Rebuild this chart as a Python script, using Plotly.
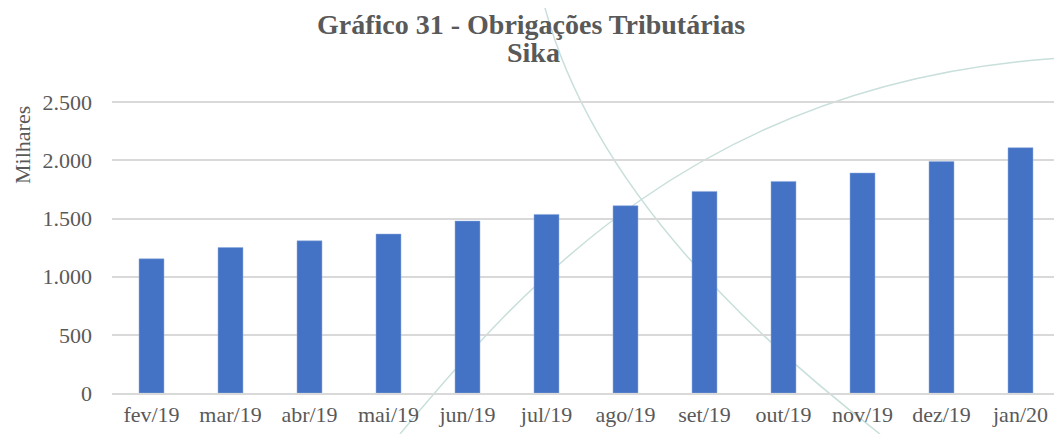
import plotly.graph_objects as go

# Data (values in thousands)
meses = ["fev/19", "mar/19", "abr/19", "mai/19", "jun/19", "jul/19",
         "ago/19", "set/19", "out/19", "nov/19", "dez/19", "jan/20"]
obrigacoes = [1154, 1251, 1309, 1367, 1479, 1536,
              1611, 1734, 1820, 1892, 1992, 2110]
y_ticks = [0, 500, 1000, 1500, 2000, 2500]

# page body has an 8px margin, so the figure is drawn 8px smaller
OFF = 8
W, H = 1062 - OFF, 434 - OFF
L, R, T, B = 104, 2, 92, 41

def paper(x, y):
    # reference pixel -> paper coords
    return ((x - OFF - L) / (W - L - R), (H - B - (y - OFF)) / (H - T - B))

def px(x, y):
    return "%.4f %.4f" % paper(x, y)

arc1 = "M " + px(543, 0) + " Q " + px(597, 216) + " " + px(880, 434)
arc2 = "M " + px(400, 434) + " C " + px(520, 290) + " " + px(700, 80) + " " + px(1062, 58)

font = "Liberation Serif"
grey = "#595959"

fig = go.Figure(go.Bar(x=meses, y=obrigacoes, marker_color="#4472C4",
                       marker_line=dict(color="#8FAADC", width=0.5)))

t1 = paper(531, 25)
t2 = paper(533, 52)
ya = paper(22, 145)

fig.update_layout(
    width=W, height=H,
    margin=dict(l=L, r=R, t=T, b=B),
    paper_bgcolor="white", plot_bgcolor="white",
    separators=",.",
    bargap=0.684,
    showlegend=False,
    font=dict(family=font, size=22, color=grey),
    annotations=[
        dict(text="<b>Gráfico 31 - Obrigações Tributárias</b>", xref="paper", yref="paper",
             x=t1[0], y=t1[1], xanchor="center", yanchor="middle", showarrow=False,
             font=dict(family=font, size=28, color=grey)),
        dict(text="<b>Sika</b>", xref="paper", yref="paper",
             x=t2[0], y=t2[1], xanchor="center", yanchor="middle", showarrow=False,
             font=dict(family=font, size=28, color=grey)),
        dict(text="Milhares", xref="paper", yref="paper", textangle=-90,
             x=ya[0], y=ya[1], xanchor="center", yanchor="middle", showarrow=False,
             borderpad=0, font=dict(family=font, size=22, color=grey)),
    ],
    shapes=[
        dict(type="path", path=arc1, xref="paper", yref="paper", layer="below",
             line=dict(color="#c8dfdb", width=1.5)),
        dict(type="path", path=arc2, xref="paper", yref="paper", layer="below",
             line=dict(color="#c8dfdb", width=1.5)),
    ],
)
fig.update_xaxes(showgrid=False, showline=True, linecolor="#d9d9d9", linewidth=1.5,
                 ticks="", ticklabelstandoff=1, tickfont=dict(size=22, color=grey))
fig.update_yaxes(range=[0, 2520], tickvals=y_ticks, tickformat=",d",
                 gridcolor="#d9d9d9", gridwidth=1.5, zeroline=False,
                 ticks="", ticklabelstandoff=19, tickfont=dict(size=22, color=grey))

fig.write_html("out.html")
